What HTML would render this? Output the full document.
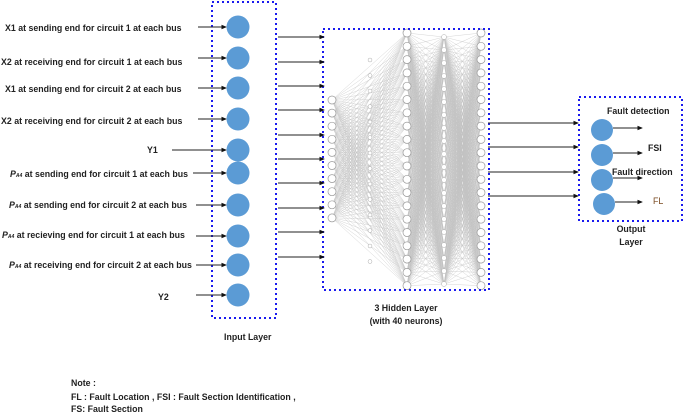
<!DOCTYPE html>
<html><head><meta charset="utf-8"><style>
body{margin:0;background:#fff;width:685px;height:412px;overflow:hidden}
svg{display:block}
text{font-family:"Liberation Sans",sans-serif;font-size:8.8px;font-weight:bold;fill:#222}
</style></head><body>
<svg id="s" width="685" height="412" viewBox="0 0 685 412">
<defs><marker id="a" markerWidth="6" markerHeight="6" refX="5" refY="3" orient="auto"><path d="M0,0.5 L6,3 L0,5.5z" fill="#111"/></marker></defs>
<g id="mesh" stroke="#999" stroke-width="0.35" opacity="0.6"></g>
<g id="nodes"></g>
<rect x="212" y="2" width="64" height="316" fill="none" stroke="#1a1aee" stroke-width="2" stroke-dasharray="2,3"/>
<rect x="323" y="29" width="166" height="261" fill="none" stroke="#1a1aee" stroke-width="2" stroke-dasharray="2,3"/>
<rect x="579" y="97" width="103" height="124" fill="none" stroke="#1a1aee" stroke-width="2" stroke-dasharray="2,3"/>
<g id="arr" stroke="#222" stroke-width="0.9" marker-end="url(#a)"></g>
<g fill="#5b9bd5" id="ic"></g>
<text x="5" y="31">X1 at sending end for circuit 1 at each bus</text>
<text x="1" y="65">X2 at receiving end for circuit 1 at each bus</text>
<text x="5" y="92">X1 at sending end for circuit 2 at each bus</text>
<text x="1" y="124">X2 at receiving end for circuit 2 at each bus</text>
<text x="147" y="153">Y1</text>
<text x="10" y="177"><tspan font-style="italic">P</tspan><tspan font-size="5" font-style="italic">A4</tspan> at sending end for circuit 1 at each bus</text>
<text x="9" y="208"><tspan font-style="italic">P</tspan><tspan font-size="5" font-style="italic">A4</tspan> at sending end for circuit 2 at each bus</text>
<text x="2" y="238"><tspan font-style="italic">P</tspan><tspan font-size="5" font-style="italic">A4</tspan> at recieving end for circuit 1 at each bus</text>
<text x="9" y="268"><tspan font-style="italic">P</tspan><tspan font-size="5" font-style="italic">A4</tspan> at receiving end for circuit 2 at each bus</text>
<text x="158" y="300">Y2</text>
<text x="224" y="340">Input Layer</text>
<text x="406" y="311" text-anchor="middle">3 Hidden Layer</text>
<text x="406" y="324" text-anchor="middle">(with 40 neurons)</text>
<text x="607" y="114">Fault detection</text>
<text x="648" y="151">FSI</text>
<text x="612" y="175">Fault direction</text>
<text x="653" y="204" style="font-weight:normal;fill:#7a4a20">FL</text>
<text x="631" y="232" text-anchor="middle">Output</text>
<text x="631" y="245" text-anchor="middle">Layer</text>
<text x="71" y="386">Note :</text>
<text x="71" y="400">FL : Fault Location , FSI : Fault Section  Identification ,</text>
<text x="71" y="412">FS: Fault Section</text>
</svg>
<script>
var NS="http://www.w3.org/2000/svg";
function el(p,t,a){var e=document.createElementNS(NS,t);for(var k in a)e.setAttribute(k,a[k]);document.getElementById(p).appendChild(e);return e;}
var L1=[],L2=[],Lm=[],L3=[],Lq=[];
for(var i=0;i<10;i++)L1.push([332,100+i*13.1]);
for(var i=0;i<20;i++){L2.push([407,33+i*13.3]);L3.push([481,33+i*13.3]);}
for(var i=0;i<20;i++){Lm.push([444,37+i*13]);}
for(var i=0;i<14;i++){Lq.push([370,60+i*15.5]);}
function conn(A,B){A.forEach(function(a){B.forEach(function(b){el("mesh","line",{x1:a[0],y1:a[1],x2:b[0],y2:b[1]});});});}
conn(L1,L2);conn(L2,Lm);conn(Lm,L3);
function node(p,r,sw){el("nodes","circle",{cx:p[0],cy:p[1],r:r,fill:"#fff",stroke:"#999","stroke-width":sw});}
Lq.forEach(function(p){node(p,2,0.4)});Lm.forEach(function(p){node(p,2.5,0.4)});
L1.forEach(function(p){node(p,4,0.7)});L2.forEach(function(p){node(p,4,0.7)});L3.forEach(function(p){node(p,4,0.7)});
[27,58,88,119,150,173,205,236,265,295].forEach(function(y,i){
 el("ic","circle",{cx:238,cy:y,r:11.5});
 var sx=[198,198,198,198,172,193,196,196,196,196][i];
 el("arr","line",{x1:sx,y1:y,x2:226,y2:y});
});
[37,62,86,110,135,159,183,208,232,257].forEach(function(y){el("arr","line",{x1:278,y1:y,x2:324,y2:y});});
[123,147,172,196].forEach(function(y){el("arr","line",{x1:488,y1:y,x2:578,y2:y});});
[[602,130],[602,155],[602,180],[604,204]].forEach(function(p,i){
 el("ic","circle",{cx:p[0],cy:p[1],r:11});
 el("arr","line",{x1:p[0]+11,y1:p[1]-2,x2:642,y2:p[1]-2});
});
</script>
</body></html>
